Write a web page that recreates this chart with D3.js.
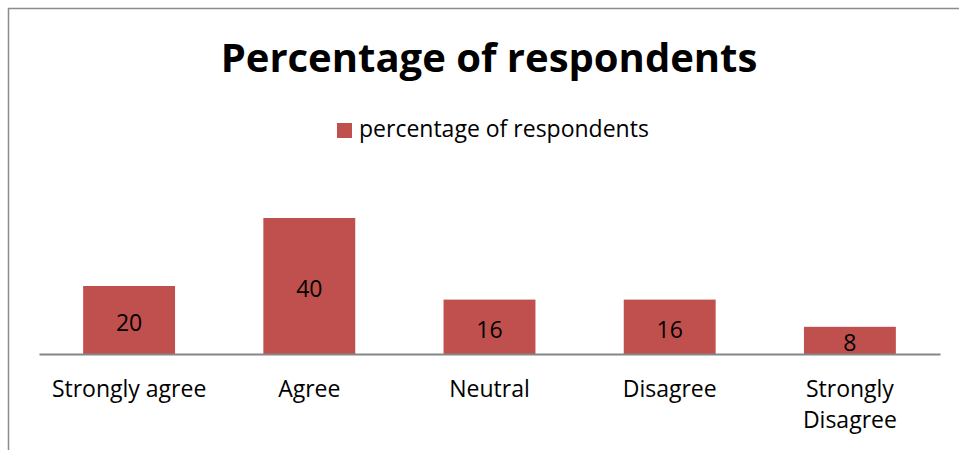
<!DOCTYPE html>
<html>
<head>
<meta charset="utf-8">
<script src="https://cdn.jsdelivr.net/npm/d3@7"></script>
<style>
  html, body { margin: 0; padding: 0; background: #fff; }
  svg { display: block; font-family: "Open Sans", sans-serif; }
</style>
</head>
<body>
<svg id="chart" width="959" height="450"></svg>
<script>
// Survey responses
const categories = ["Strongly agree", "Agree", "Neutral", "Disagree", "Strongly Disagree"];
const values = [20, 40, 16, 16, 8];
const seriesName = "percentage of respondents";
const chartTitle = "Percentage of respondents";

const svg = d3.select("#chart");
const W = 959, H = 450;

// Chart frame
svg.append("path")
  .attr("d", `M8.5,${H} V8.5 H${W}`)
  .attr("fill", "none")
  .attr("stroke", "#8c8c8c")
  .attr("stroke-width", 1.5);

// Plot area
const plot = { left: 39, right: 940, bottom: 354 };

const x = d3.scaleBand()
  .domain(categories)
  .range([plot.left, plot.right])
  .paddingInner(0.49)
  .paddingOuter(0.245);

const y = d3.scaleLinear()
  .domain([0, 50])
  .range([plot.bottom, plot.bottom - 170]);

// Title
svg.append("text")
  .attr("x", 489)
  .attr("y", 72)
  .attr("text-anchor", "middle")
  .attr("font-weight", "bold")
  .attr("font-size", 40)
  .attr("fill", "#000")
  .text(chartTitle);

// Legend
const legend = svg.append("g");
legend.append("rect")
  .attr("x", 337).attr("y", 123)
  .attr("width", 15).attr("height", 15)
  .attr("fill", "#C0504D");
legend.append("text")
  .attr("x", 359).attr("y", 137)
  .attr("font-size", 23)
  .attr("fill", "#000")
  .text(seriesName);

// Bars
const data = categories.map((c, i) => ({ c, v: values[i] }));
svg.append("g").selectAll("rect")
  .data(data)
  .join("rect")
  .attr("x", d => x(d.c))
  .attr("y", d => y(d.v))
  .attr("width", x.bandwidth())
  .attr("height", d => y(0) - y(d.v))
  .attr("fill", "#C0504D");

// Value labels inside the bars
svg.append("g").selectAll("text")
  .data(data)
  .join("text")
  .attr("x", d => x(d.c) + x.bandwidth() / 2)
  .attr("y", d => (y(d.v) + y(0)) / 2)
  .attr("dy", "0.47em")
  .attr("text-anchor", "middle")
  .attr("font-size", 23)
  .attr("fill", "#000")
  .text(d => d.v);

// Category axis
const xAxis = svg.append("g")
  .attr("transform", `translate(0,${plot.bottom})`)
  .call(d3.axisBottom(x).tickSize(0).tickPadding(0));
xAxis.select(".domain")
  .attr("stroke", "#868686")
  .attr("stroke-width", 2);
xAxis.selectAll(".tick text").remove();

// Category labels, wrapped onto two lines where the band is too narrow
const labelWrap = { "Strongly Disagree": ["Strongly", "Disagree"] };
xAxis.selectAll(".tick").each(function(d) {
  const lines = labelWrap[d] || [d];
  const t = d3.select(this).append("text")
    .attr("text-anchor", "middle")
    .attr("font-size", 23)
    .attr("font-family", "'Open Sans', sans-serif")
    .attr("fill", "#000");
  lines.forEach((line, i) => {
    t.append("tspan")
      .attr("x", 0)
      .attr("y", 43 + i * 31)
      .text(line);
  });
});
</script>
</body>
</html>
